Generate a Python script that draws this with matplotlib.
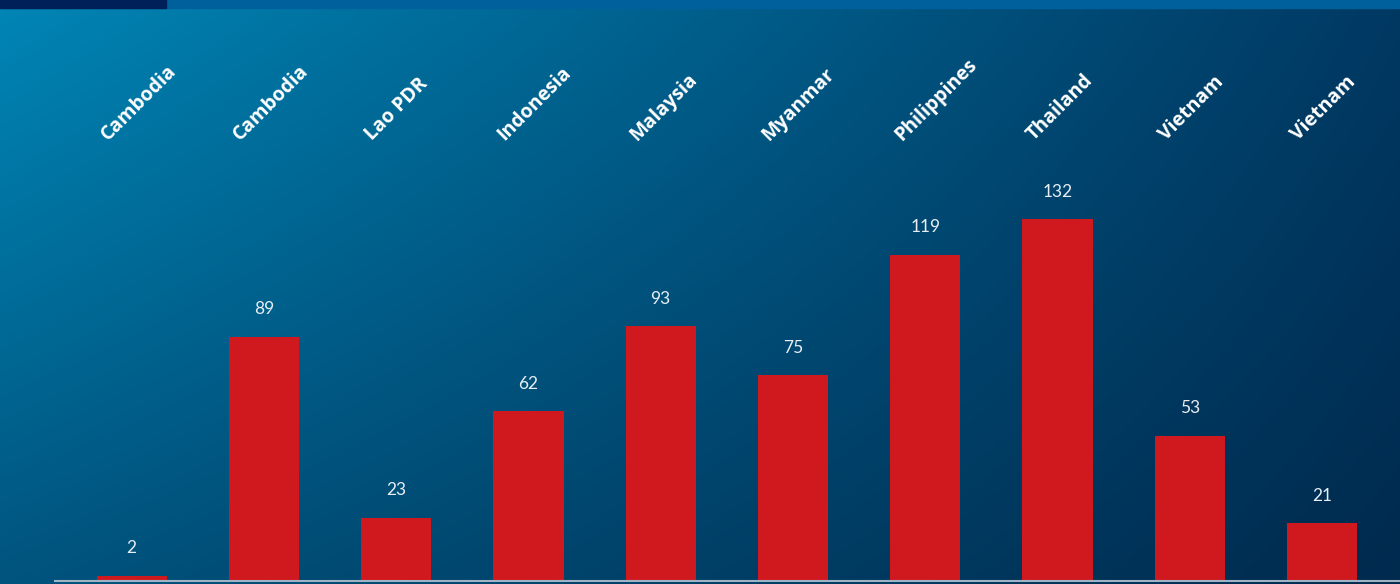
import numpy as np
import matplotlib
matplotlib.use("Agg")
import matplotlib.pyplot as plt
from matplotlib.colors import to_rgb

# Data
countries = ["Cambodia", "Cambodia", "Lao PDR", "Indonesia", "Malaysia",
             "Myanmar", "Philippines", "Thailand", "Vietnam", "Vietnam"]
values = [2, 89, 23, 62, 93, 75, 119, 132, 53, 21]

W, H, DPI = 1400, 584, 100
fig = plt.figure(figsize=(W / DPI, H / DPI), dpi=DPI)

# Background: bilinear blend of four corner colours
bg = fig.add_axes([0, 0, 1, 1], zorder=0)
tl, tr = np.array(to_rgb("#0086b6")), np.array(to_rgb("#003963"))
bl, br = np.array(to_rgb("#00547e")), np.array(to_rgb("#002a4e"))
u = np.linspace(0, 1, 350)[None, :, None]
v = np.linspace(0, 1, 146)[:, None, None]
img = (1 - v) * ((1 - u) * tl + u * tr) + v * ((1 - u) * bl + u * br)
bg.imshow(img, extent=[0, 1, 0, 1], aspect="auto", interpolation="bilinear")
bg.set_xlim(0, 1)
bg.set_ylim(0, 1)
bg.axis("off")

# Top stripe
stripe_h = 8 / H
bg.add_patch(plt.Rectangle((0, 1 - stripe_h), 1, stripe_h, color="#00609c", zorder=2))
bg.add_patch(plt.Rectangle((0, 1 - stripe_h), 166 / W, stripe_h, color="#00205a", zorder=3))

# Chart axes
left_px, bottom_px = 55, 3
ax = fig.add_axes([left_px / W, bottom_px / H, (W - left_px) / W, (576 - bottom_px) / H], zorder=1)
ax.patch.set_alpha(0)
x = np.arange(len(values))
ax.bar(x, values, width=0.53, color="#d0191e", zorder=2)
ax.set_xlim(-0.58, 9.59)
ax.set_ylim(0, (576 - bottom_px) / (362 / 132))
for s in ["top", "right", "left"]:
    ax.spines[s].set_visible(False)
ax.spines["bottom"].set_color("#9fb3c4")
ax.spines["bottom"].set_linewidth(1.5)
ax.set_xticks([])
ax.set_yticks([])

# Value labels above bars
for xi, val in zip(x, values):
    ax.annotate(str(val), (xi, val), xytext=(0, 14), textcoords="offset points",
                ha="center", va="bottom", color="#e8eef4", fontsize=12.5,
                family=["Lato", "DejaVu Sans"])

# Rotated country labels above the plot area
fig.canvas.draw()
for xi, name in zip(x, countries):
    tx = ax.transData.transform((xi, 0))[0] - 24
    fig.text(tx / W, (H - 141) / H, name, ha="left", va="baseline",
             rotation=45, rotation_mode="anchor", color="white",
             fontsize=14, fontweight="bold", family=["Open Sans", "DejaVu Sans"])

fig.savefig("out.png", dpi=DPI)
